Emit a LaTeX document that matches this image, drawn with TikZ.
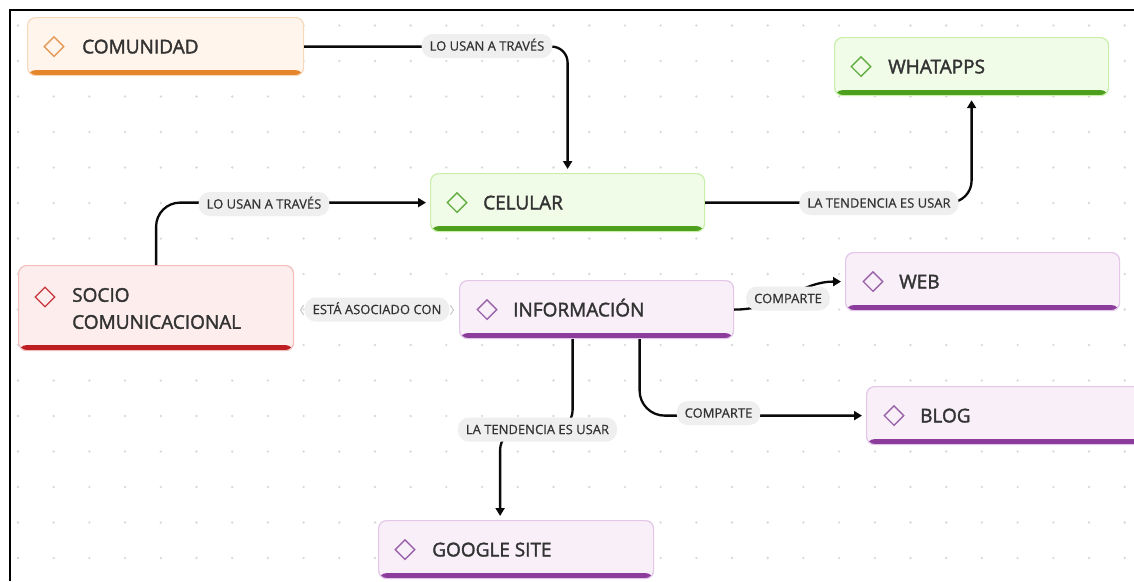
\documentclass[tikz,border=0pt]{standalone}
\usepackage{fontspec}
\setmainfont{Open Sans}
\newfontfamily\boxfamily{Open Sans}[FakeBold=1.8]
\newfontfamily\labfamily{Open Sans}[FakeBold=0.6]
\usetikzlibrary{arrows.meta,shapes.geometric,calc}

\definecolor{txt}{HTML}{333333}
\definecolor{linec}{HTML}{0A0A0A}
\definecolor{dotc}{HTML}{D9D9D9}
\definecolor{pillgray}{HTML}{EFEFEF}
\definecolor{chevc}{HTML}{C8C8C8}
\definecolor{orfill}{HTML}{FFF5EC}
\definecolor{orline}{HTML}{F8D8BC}
\definecolor{orbar}{HTML}{E5862C}
\definecolor{ordia}{HTML}{E49A58}
\definecolor{grfill}{HTML}{F1FCE8}
\definecolor{grline}{HTML}{C8F0AA}
\definecolor{grbar}{HTML}{4E9F1E}
\definecolor{grdia}{HTML}{63AE42}
\definecolor{rdfill}{HTML}{FDEDED}
\definecolor{rdline}{HTML}{F2BDBD}
\definecolor{rdbar}{HTML}{BE1E22}
\definecolor{rddia}{HTML}{C8343A}
\definecolor{pufill}{HTML}{F8EFF9}
\definecolor{puline}{HTML}{E3C6EA}
\definecolor{pubar}{HTML}{8C3D9C}
\definecolor{pudia}{HTML}{9B63A9}

\newcommand{\boxfont}{\boxfamily\fontsize{19}{27}\selectfont}
\newcommand{\labfont}{\labfamily\fontsize{13}{16}\selectfont}

\tikzset{
  cbox/.style n args={3}{draw=#2, fill=#1, line width=1.2pt, rounded corners=8pt,
    inner sep=0pt, anchor=north west, minimum height=58pt,
    path picture={\fill[#3] ([yshift=5.5pt]path picture bounding box.south west)
      rectangle (path picture bounding box.south east);}},
  orangebox/.style={cbox={orfill}{orline}{orbar}},
  greenbox/.style={cbox={grfill}{grline}{grbar}},
  redbox/.style={cbox={rdfill}{rdline}{rdbar}},
  purplebox/.style={cbox={pufill}{puline}{pubar}},
  dmark/.style={draw=#1, diamond, line width=1.3pt, minimum width=20pt,
    minimum height=20pt, inner sep=0pt},
  btxt/.style={font=\boxfont, text=txt, anchor=base west, inner sep=0pt, align=left},
  pill/.style={fill=pillgray, rounded corners=11pt, font=\labfont, text=txt,
    inner xsep=8pt, inner ysep=0pt, text height=9.3pt, text depth=0pt,
    minimum height=24pt},
  conn/.style={draw=linec, line width=2.3pt,
    -{Triangle[length=8pt,width=9pt]}, shorten >=4pt},
  chev/.style={draw=chevc, line width=1pt, line cap=round, line join=round},
}

\begin{document}
\begin{tikzpicture}[x=1pt,y=-1pt]
\useasboundingbox (0,0) rectangle (1134,581);
\fill[white] (0,0) rectangle (1134,581);

% dot grid
\foreach \i in {0,...,31}{
  \foreach \j in {0,...,15}{
    \fill[dotc] ({18+35.7*\i},{25.5+35.5*\j}) circle (1.3pt);
  }
}

% frame
\draw[line width=2pt, black] (10,581) -- (10,10) -- (1134,10);

% boxes
\node[orangebox, minimum width=276pt] (comunidad) at (27,17) {};
\node[greenbox, minimum width=274pt] (whatapps) at (834,37) {};
\node[greenbox, minimum width=274pt] (celular) at (430,173) {};
\node[redbox, minimum width=275pt, minimum height=85pt] (socio) at (18,265) {};
\node[purplebox, minimum width=274pt] (info) at (459,280) {};
\node[purplebox, minimum width=274pt] (web) at (845,252) {};
\node[purplebox, minimum width=280pt] (blog) at (866,386) {};
\node[purplebox, minimum width=275pt] (google) at (378,520) {};

% diamonds
\node[dmark=ordia] (comunidad-d) at ([xshift=27pt]comunidad.west) {};
\node[dmark=grdia] (whatapps-d) at ([xshift=27pt]whatapps.west) {};
\node[dmark=grdia] (celular-d) at ([xshift=27pt]celular.west) {};
\node[dmark=rddia] (socio-d) at (45,297) {};
\node[dmark=pudia] (info-d) at ([xshift=28pt]info.west) {};
\node[dmark=pudia] (web-d) at ([xshift=28pt]web.west) {};
\node[dmark=pudia] (blog-d) at ([xshift=28pt]blog.west) {};
\node[dmark=pudia] (google-d) at ([xshift=27pt]google.west) {};

% texts
\node[btxt] (comunidad-t) at ([xshift=55pt,yshift=-6.8pt]comunidad.west) {COMUNIDAD};
\node[btxt] (whatapps-t) at ([xshift=54pt,yshift=-6.8pt]whatapps.west) {WHATAPPS};
\node[btxt] (celular-t) at ([xshift=53pt,yshift=-6.8pt]celular.west) {CELULAR};
\node[btxt] (socio-t) at (72,328.8) {SOCIO\\COMUNICACIONAL};
\node[btxt] (info-t) at ([xshift=54pt,yshift=-6.8pt]info.west) {INFORMACIÓN};
\node[btxt] (web-t) at ([xshift=54pt,yshift=-6.8pt]web.west) {WEB};
\node[btxt] (blog-t) at ([xshift=54pt,yshift=-6.8pt]blog.west) {BLOG};
\node[btxt] (google-t) at ([xshift=54pt,yshift=-6.8pt]google.west) {GOOGLE SITE};

% connectors
\draw[conn, rounded corners=16pt] (comunidad.east) -| (celular.north);
\draw[conn, rounded corners=24pt] (socio.north) |- (celular.west);
\draw[conn, rounded corners=22pt] (celular.east) -| (whatapps.south);
\draw[conn] (info.east) to[out=0,in=180] (web.west);
\draw[conn, rounded corners=25pt] ([xshift=43pt]info.south) |- (blog.west);
\draw[conn, rounded corners=20pt] ([xshift=-24pt]info.south) |- (537,430) -| ([xshift=-16pt]google.north);

% labels
\node[pill] (p1) at (487,46) {LO USAN A TRAVÉS};
\node[pill] (p2) at (264,204) {LO USAN A TRAVÉS};
\node[pill] (p3) at (879,203) {LA TENDENCIA ES USAR};
\node[pill] (p4) at (377,309.5) {ESTÁ ASOCIADO CON};
\node[pill] (p5) at (788,298.5) {COMPARTE};
\node[pill] (p6) at (718.5,413) {COMPARTE};
\node[pill] (p7) at (537.5,429.5) {LA TENDENCIA ES USAR};

% faint chevrons of the association
\draw[chev] ([xshift=-1pt,yshift=4pt]p4.west) -- ++(-3,4.5) -- ++(3,4.5);
\draw[chev] ([xshift=1pt,yshift=4pt]p4.east) -- ++(3,4.5) -- ++(-3,4.5);
\end{tikzpicture}
\end{document}
